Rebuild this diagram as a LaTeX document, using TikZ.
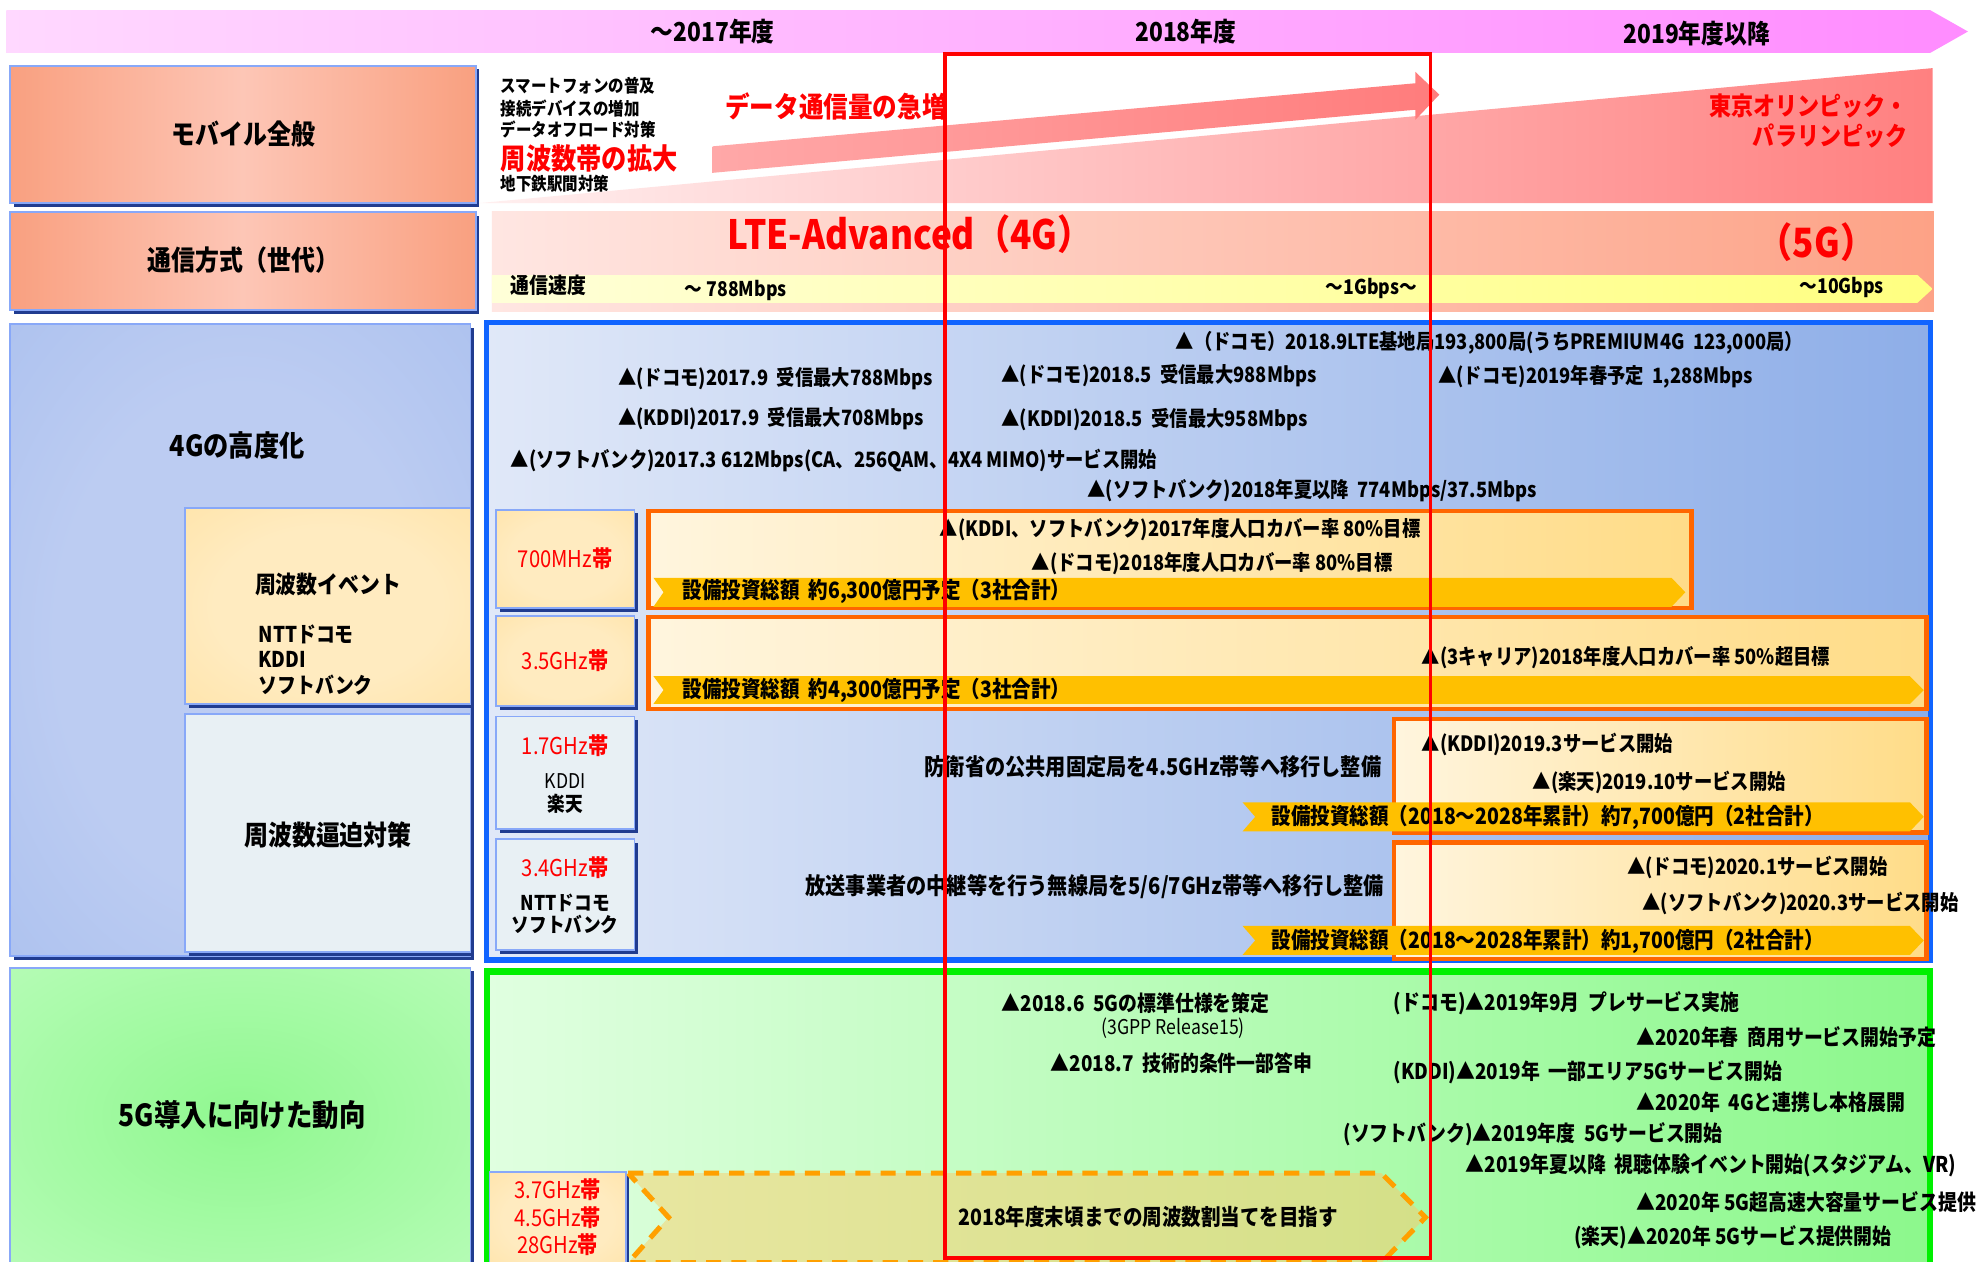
\documentclass[tikz,border=0pt]{standalone}
\usepackage{fontspec}
\newfontfamily\jp{Noto Sans CJK JP}[FakeStretch=0.87]
\newcommand\fsz[1]{\fontsize{#1}{#1}\selectfont}
\definecolor{banL}{HTML}{FFD8FF}
\definecolor{banR}{HTML}{FF8CFF}
\definecolor{salE}{HTML}{F9A080}
\definecolor{salM}{HTML}{FDC6B6}
\definecolor{wedL}{HTML}{FFF0F0}
\definecolor{wedR}{HTML}{FF8080}
\definecolor{arrL}{HTML}{FFA8A8}
\definecolor{arrR}{HTML}{FF7C7C}
\definecolor{rowL}{HTML}{FFE6E2}
\definecolor{rowR}{HTML}{FDA286}
\definecolor{spdL}{HTML}{FFFFD8}
\definecolor{spdR}{HTML}{FFFF80}
\definecolor{bfL}{HTML}{E0E8F8}
\definecolor{bfR}{HTML}{8EAEE8}
\definecolor{bfB}{HTML}{1064FF}
\definecolor{bluC}{HTML}{BCCCF2}
\definecolor{bluE}{HTML}{90AEE8}
\definecolor{orC}{HTML}{FFEBC0}
\definecolor{orE}{HTML}{FFD884}
\definecolor{grayF}{HTML}{E8F0F4}
\definecolor{ofL}{HTML}{FFF5DE}
\definecolor{ofR}{HTML}{FFDC88}
\definecolor{ofB}{HTML}{FF6600}
\definecolor{barC}{HTML}{FFC000}
\definecolor{gfL}{HTML}{E0FFE0}
\definecolor{gfR}{HTML}{8CF88C}
\definecolor{gfB}{HTML}{00F000}
\definecolor{grC}{HTML}{90F890}
\definecolor{grE}{HTML}{D8FFD8}
\definecolor{dsL}{HTML}{E8E6A0}
\definecolor{dsR}{HTML}{D4E088}
\definecolor{dsB}{HTML}{FFA000}
\definecolor{shB}{HTML}{203C90}
\definecolor{ltB}{HTML}{88A8F8}
\definecolor{redT}{HTML}{FF0000}
\pgfdeclareradialshading{bluerad}{\pgfpoint{0bp}{0bp}}{color(0bp)=(bluC); color(20bp)=(bluC); color(70bp)=(bluE)}
\pgfdeclareradialshading{orrad}{\pgfpoint{0bp}{0bp}}{color(0bp)=(orC); color(20bp)=(orC); color(70bp)=(orE)}
\pgfdeclareradialshading{grrad}{\pgfpoint{0bp}{0bp}}{color(0bp)=(grC); color(70bp)=(grE)}
\newcommand\mypanel[5]{%
  \fill[shB] (#1+3,#2+3) rectangle (#3+3,#4+3);
  \shade[#5] (#1,#2) rectangle (#3,#4);
  \draw[ltB,line width=1.5] (#1,#2) rectangle (#3,#4);}
\newcommand\mybar[5]{% x1 y1 x2 y2 notch
  \fill[barC] (#1,#2) -- (#3,#2) -- (#3+11,{(#2+#4)/2}) -- (#3,#4) -- (#1,#4) -- (#1+#5,{(#2+#4)/2}) -- cycle;}
\tikzset{
  every node/.style={inner sep=0pt,outer sep=0pt},
  yr/.style={font=\jp\bfseries\fsz{20.7}},
  ttl/.style={font=\jp\bfseries\fsz{21.8}},
  tx/.style={anchor=west,font=\jp\bfseries\fsz{16.7}},
  txs/.style={anchor=west,font=\jp\bfseries\fsz{14.1}},
  inv/.style={anchor=west,font=\jp\bfseries\fsz{17.8}},
  g5/.style={anchor=west,font=\jp\bfseries\fsz{17.2}},
  fq/.style={font=\jp\fsz{18.4},text=redT},
  rbig/.style={font=\jp\bfseries\fsz{22.4},text=redT},
}
\begin{document}
\begin{tikzpicture}[x=1pt,y=-1pt]
\useasboundingbox (0,0) rectangle (1568,1000);
\fill[white] (0,0) rectangle (1568,1000);
% top banner
\shade[left color=banL,right color=banR] (5,8) -- (1530,8) -- (1560,25) -- (1530,42) -- (5,42) -- cycle;
\node[yr] (y1) at (565,25) {～2017年度};
\node[yr] (y2) at (940,25) {2018年度};
\node[yr] (y3) at (1345,27) {2019年度以降};
% row 1
\mypanel{8}{52}{377}{161}{left color=salE,right color=salE,middle color=salM}
\node[ttl] (m1) at (193,106) {モバイル全般};
\shade[left color=wedL,right color=wedR] (380,161) -- (1532,54) -- (1532,161) -- cycle;
\shade[left color=arrL,right color=arrR] (565,116) -- (1122,66) -- (1122,57) -- (1141,75) -- (1122,95) -- (1122,87) -- (565,137) -- cycle;
\node[txs] (l1) at (397,68) {スマートフォンの普及};
\node[txs] (l2) at (397,86) {接続デバイスの増加};
\node[txs] (l3) at (397,103) {データオフロード対策};
\node[anchor=west,font=\jp\bfseries\fsz{23},text=redT] (l4) at (397,126) {周波数帯の拡大};
\node[txs] (l5) at (397,146) {地下鉄駅間対策};
\node[rbig,anchor=west] (d1) at (575,84) {データ通信量の急増};
\node[rbig,anchor=east,font=\jp\bfseries\fsz{20.1}] (o1) at (1512,84) {東京オリンピック・};
\node[rbig,anchor=east,font=\jp\bfseries\fsz{20.1}] (o2) at (1512,108) {パラリンピック};
% row 2
\mypanel{8}{168}{377}{246}{left color=salE,right color=salE,middle color=salM}
\node[ttl] (m2) at (193,206) {通信方式（世代）};
\shade[left color=rowL,right color=rowR] (390,168) rectangle (1533,247);
\shade[left color=spdL,right color=spdR] (390,218) -- (1520,218) -- (1532,229) -- (1520,240) -- (390,240) -- cycle;
\node[anchor=west,font=\jp\bfseries\fsz{32},text=redT] (lte) at (577,186) {LTE-Advanced（4G）};
\node[font=\jp\bfseries\fsz{32},text=redT] (g5t) at (1440,192) {（5G）};
\node[anchor=west,font=\jp\bfseries\fsz{17.2}] (sp0) at (405,226) {通信速度};
\node[anchor=west,font=\jp\bfseries\fsz{16.1}] (sp1) at (543,230) {～ 788Mbps};
\node[font=\jp\bfseries\fsz{16.1}] (sp2) at (1087,229) {～1Gbps～};
\node[font=\jp\bfseries\fsz{16.1}] (sp3) at (1460,228) {～10Gbps};
% row 3 left
\mypanel{8}{257}{373}{758}{shading=bluerad}
\node[font=\jp\bfseries\fsz{23}] (m3) at (188,353) {4Gの高度化};
\mypanel{147}{403}{373}{558}{shading=orrad}
\node[font=\jp\bfseries\fsz{19}] (e1) at (260,463) {周波数イベント};
\node[anchor=west,font=\jp\bfseries\fsz{17.2}] (e2) at (205,503) {NTTドコモ};
\node[anchor=west,font=\jp\bfseries\fsz{17.2}] (e3) at (205,523) {KDDI};
\node[anchor=west,font=\jp\bfseries\fsz{17.2}] (e4) at (205,543) {ソフトバンク};
\mypanel{147}{566}{373}{755}{left color=grayF,right color=grayF}
\node[font=\jp\bfseries\fsz{21.8}] (m4) at (260,662) {周波数逼迫対策};
% row 3 right
\shadedraw[left color=bfL,right color=bfR,draw=bfB,line width=4] (386,256) rectangle (1530,761);
\node[tx] (a1) at (932,272) {▲（ドコモ）2018.9LTE基地局193,800局(うちPREMIUM4G\ \ 123,000局）};
\node[tx] (a2) at (490,300) {▲(ドコモ)2017.9\ \ 受信最大788Mbps};
\node[tx] (a3) at (794,298) {▲(ドコモ)2018.5\ \ 受信最大988Mbps};
\node[tx] (a4) at (1140,299) {▲(ドコモ)2019年春予定\ \ 1,288Mbps};
\node[tx] (a5) at (490,332) {▲(KDDI)2017.9\ \ 受信最大708Mbps};
\node[tx] (a6) at (794,333) {▲(KDDI)2018.5\ \ 受信最大958Mbps};
\node[tx] (a7) at (405,365) {▲(ソフトバンク)2017.3 612Mbps(CA、256QAM、4X4 MIMO)サービス開始};
\node[tx] (a8) at (862,389) {▲(ソフトバンク)2018年夏以降\ \ 774Mbps/37.5Mbps};
% small freq boxes
\mypanel{393}{404}{503}{482}{shading=orrad}
\node[fq] (f1) at (448,443) {700MHz\textbf{帯}};
\mypanel{393}{488}{503}{560}{shading=orrad}
\node[fq] (f2) at (448,524) {3.5GHz\textbf{帯}};
\mypanel{393}{568}{503}{657}{left color=grayF,right color=grayF}
\node[fq] (f3) at (448,591) {1.7GHz\textbf{帯}};
\node[font=\jp\fsz{16.1}] (f3a) at (448,619) {KDDI};
\node[font=\jp\bfseries\fsz{16.1}] (f3b) at (448,637) {楽天};
\mypanel{393}{665}{503}{753}{left color=grayF,right color=grayF}
\node[fq] (f4) at (448,688) {3.4GHz\textbf{帯}};
\node[font=\jp\bfseries\fsz{16.1}] (f4a) at (448,716) {NTTドコモ};
\node[font=\jp\bfseries\fsz{16.1}] (f4b) at (448,733) {ソフトバンク};
% orange frames
\shadedraw[left color=ofL,right color=ofR,draw=ofB,line width=3.5] (514,405) rectangle (1341,482);
\node[tx] (b1) at (745,420) {▲(KDDI、ソフトバンク)2017年度人口カバー率 80\%目標};
\node[tx] (b2) at (818,447) {▲(ドコモ)2018年度人口カバー率 80\%目標};
\mybar{518}{458}{1325}{481}{8}
\node[inv] (b3) at (541,469) {設備投資総額\ \ 約6,300億円予定（3社合計）};
\shadedraw[left color=ofL,right color=ofR,draw=ofB,line width=3.5] (514,489) rectangle (1527,562);
\node[tx] (c1) at (1127,521) {▲(3キャリア)2018年度人口カバー率 50\%超目標};
\mybar{518}{536}{1514}{558}{8}
\node[inv] (c2) at (541,547) {設備投資総額\ \ 約4,300億円予定（3社合計）};
\shadedraw[left color=ofL,right color=ofR,draw=ofB,line width=3.5] (1105,570) rectangle (1527,660);
\node[tx] (h1) at (1127,590) {▲(KDDI)2019.3サービス開始};
\node[tx] (h2) at (1215,620) {▲(楽天)2019.10サービス開始};
\mybar{985}{636}{1514}{659}{10}
\node[inv] (h3) at (1008,648) {設備投資総額（2018～2028年累計）約7,700億円（2社合計）};
\node[anchor=east,font=\jp\bfseries\fsz{18.4}] (h4) at (1095,608) {防衛省の公共用固定局を4.5GHz帯等へ移行し整備};
\shadedraw[left color=ofL,right color=ofR,draw=ofB,line width=3.5] (1105,668) rectangle (1527,760);
\node[tx] (k1) at (1290,688) {▲(ドコモ)2020.1サービス開始};
\node[tx] (k2) at (1302,716) {▲(ソフトバンク)2020.3サービス開始};
\mybar{985}{734}{1514}{757}{10}
\node[inv] (k3) at (1008,746) {設備投資総額（2018～2028年累計）約1,700億円（2社合計）};
\node[anchor=east,font=\jp\bfseries\fsz{18.4}] (k4) at (1097,703) {放送事業者の中継等を行う無線局を5/6/7GHz帯等へ移行し整備};
% row 4
\mypanel{8}{767}{373}{1004}{shading=grrad}
\node[font=\jp\bfseries\fsz{24.1}] (m5) at (192,884) {5G導入に向けた動向};
\shadedraw[left color=gfL,right color=gfR,draw=gfB,line width=5] (386,770) rectangle (1530,1004);
\node[g5] (p1) at (794,795) {▲2018.6\ \ 5Gの標準仕様を策定};
\node[font=\jp\fsz{16.1}] (p2) at (930,815) {(3GPP Release15)};
\node[g5] (p3) at (833,843) {▲2018.7\ \ 技術的条件一部答申};
\node[g5] (q1) at (1105,795) {(ドコモ)▲2019年9月\ \ プレサービス実施};
\node[g5] (q2) at (1297,822) {▲2020年春\ \ 商用サービス開始予定};
\node[g5] (q3) at (1105,850) {(KDDI)▲2019年\ \ 一部エリア5Gサービス開始};
\node[g5] (q4) at (1297,874) {▲2020年\ \ 4Gと連携し本格展開};
\node[g5] (q5) at (1065,899) {(ソフトバンク)▲2019年度\ \ 5Gサービス開始};
\node[g5] (q6) at (1162,924) {▲2019年夏以降\ \ 視聴体験イベント開始(スタジアム、VR)};
\node[g5] (q7) at (1297,953) {▲2020年 5G超高速大容量サービス提供};
\node[g5] (q8) at (1248,981) {(楽天)▲2020年 5Gサービス提供開始};
\mypanel{388}{929}{496}{1004}{shading=orrad}
\node[fq] (r1) at (442,943) {3.7GHz\textbf{帯}};
\node[fq] (r2) at (442,965) {4.5GHz\textbf{帯}};
\node[fq] (r3) at (442,987) {28GHz\textbf{帯}};
\shadedraw[left color=dsL,right color=dsR,draw=dsB,line width=4,dash pattern=on 12pt off 8pt] (498,930) -- (1095,930) -- (1130,965) -- (1095,1001) -- (498,1001) -- (530,965) -- cycle;
\node[font=\jp\bfseries\fsz{17.8}] (s1) at (910,965) {2018年度末頃までの周波数割当てを目指す};
% red highlight frame
\draw[redT,line width=3] (749,43) rectangle (1134,997);
\end{tikzpicture}
\end{document}
